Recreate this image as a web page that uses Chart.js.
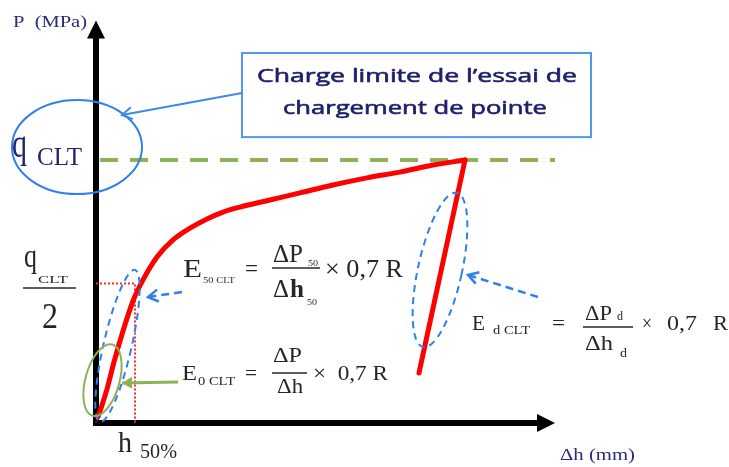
<!DOCTYPE html>
<html>
<head>
<meta charset="utf-8">
<script src="https://cdn.jsdelivr.net/npm/chart.js@4.4.1/dist/chart.umd.min.js"></script>
<style>
html, body { margin: 0; padding: 0; background: #fff; }
#wrap { width: 729px; height: 467px; }
</style>
</head>
<body>
<div id="wrap"><canvas id="chart" width="729" height="467"></canvas></div>
<script>
// Load test curve P = f(dh) (dh in mm, P in MPa)
const loadH = [0.2, 0.6, 1.1, 1.8, 2.7, 3.7, 4.7, 6.1, 7.7, 9.4, 11.1, 12.7, 14.4, 17.4, 20.4, 23.7, 27.1, 30.4, 33.7, 36.9];
const loadP = [0.23, 0.68, 1.29, 2.32, 3.50, 4.64, 5.44, 6.31, 6.96, 7.41, 7.76, 8.02, 8.21, 8.48, 8.75, 9.05, 9.32, 9.54, 9.81, 10];
const unloadH = [36.9, 32.3];
const unloadP = [10, 1.9];
const qCLT = 10;
const qLineH = [0.4, 45.9];
const halfLevel = 5.3;   // q_CLT / 2 as drawn
const h50 = 3.9;         // h 50%
const secantH = [0, 4.0];
const secantP = [0, 5.0];

// axis extents
const xMin = -9.6, xMax = 63.3, yMin = -1.673, yMax = 16.084;
const xAxisEnd = 45.9, yAxisEnd = 15.3;

const SERIF = '"Liberation Serif", "DejaVu Serif", serif';
const NAVY = '#2b2b78';
const INK = '#262626';
const BLUE = '#2f80ed';
const GREEN = '#8db255';

const toPts = (xs, ys) => xs.map((x, i) => ({x: x, y: ys[i]}));

// annotations (data units)
const ellipses = [
	{x: -1.9, y: 10.49, rx: 65, ry: 47, rot: 0, color: BLUE, dash: []},
	{x: 2.15, y: 2.93, rx: 14, ry: 78, rot: 0.226, color: BLUE, dash: [7, 5]},
	{x: 0.65, y: 1.63, rx: 17, ry: 37, rot: 0.27, color: GREEN, dash: []},
	{x: 34.4, y: 5.82, rx: 22, ry: 79, rot: 0.216, color: BLUE, dash: [7, 5]}
];
const arrows = [
	{from: [14.6, 12.55], to: [2.6, 11.71], color: '#3f88ee', width: 2, dash: [], head: 'open'},
	{from: [8.6, 4.98], to: [5.2, 4.79], color: BLUE, width: 2.5, dash: [8, 5], head: 'open'},
	{from: [44.2, 4.79], to: [37.2, 5.63], color: BLUE, width: 2.5, dash: [8, 5], head: 'open'},
	{from: [8.2, 1.56], to: [2.6, 1.52], color: GREEN, width: 3, dash: [], head: 'fill'}
];
const box = {x1: 14.6, y1: 14.07, x2: 49.5, y2: 10.87};
const bars = [
	{x1: -7.3, x2: -2.0, y: 5.13, color: INK},
	{x1: 17.6, x2: 22.4, y: 5.89, color: INK},
	{x1: 17.6, x2: 21.1, y: 1.90, color: INK},
	{x1: 48.7, x2: 53.7, y: 3.65, color: INK}
];
const BOXFONT = '"Open Sans", "DejaVu Sans", sans-serif';
const labels = [
	{t: 'P  (MPa)', x: -8.3, y: 15.06, size: 16, w: 74, color: NAVY},
	{t: 'q', x: -8.4, y: 10.11, size: 42, w: 15, color: '#23236e'},
	{t: 'CLT', x: -5.9, y: 9.81, size: 26, w: 45, color: '#23236e'},
	{t: 'q', x: -7.2, y: 5.93, size: 34, w: 13, color: INK},
	{t: 'CLT', x: -5.8, y: 5.32, size: 11, w: 30, color: INK},
	{t: '2', x: -5.4, y: 3.61, size: 36, w: 16, color: INK},
	{t: 'h', x: 2.2, y: -1.10, size: 30, w: 14, color: INK},
	{t: '50%', x: 4.4, y: -1.33, size: 20, w: 37, color: INK},
	// E50
	{t: 'E', x: 8.7, y: 5.55, size: 25, w: 19, color: INK},
	{t: '50 CLT', x: 10.7, y: 5.32, size: 9, w: 32, color: INK},
	{t: '=', x: 14.9, y: 5.55, size: 25, w: 13, color: INK},
	{t: '\u0394P', x: 17.7, y: 6.12, size: 25, w: 30, color: INK},
	{t: '50', x: 21.2, y: 5.97, size: 8, w: 10, color: INK},
	{t: '\u0394', x: 17.7, y: 4.79, size: 25, w: 16, color: INK},
	{t: 'h', x: 19.4, y: 4.79, size: 25, w: 14, color: INK, bold: true},
	{t: '50', x: 21.1, y: 4.49, size: 8, w: 10, color: INK},
	{t: '\u00d7 0,7 R', x: 22.9, y: 5.55, size: 25, w: 78, color: INK},
	// E0
	{t: 'E', x: 8.6, y: 1.63, size: 21, w: 15, color: INK},
	{t: '0 CLT', x: 10.2, y: 1.44, size: 13, w: 37, color: INK},
	{t: '=', x: 14.9, y: 1.63, size: 21, w: 12, color: INK},
	{t: '\u0394P', x: 17.7, y: 2.32, size: 21, w: 29, color: INK},
	{t: '\u0394h', x: 18.1, y: 1.14, size: 21, w: 26, color: INK},
	{t: '\u00d7  0,7 R', x: 21.7, y: 1.63, size: 21, w: 75, color: INK},
	// Ed
	{t: 'E', x: 37.6, y: 3.54, size: 21, w: 13, color: INK},
	{t: 'd CLT', x: 39.7, y: 3.38, size: 13, w: 37, color: INK},
	{t: '=', x: 45.6, y: 3.54, size: 21, w: 13, color: INK},
	{t: '\u0394P', x: 48.9, y: 3.92, size: 21, w: 27, color: INK},
	{t: 'd', x: 52.1, y: 3.92, size: 12, w: 6, color: INK},
	{t: '\u0394h', x: 48.9, y: 2.78, size: 21, w: 28, color: INK},
	{t: 'd', x: 52.4, y: 2.51, size: 12, w: 7, color: INK},
	{t: '\u00d7', x: 54.6, y: 3.54, size: 21, w: 10, color: INK},
	{t: '0,7', x: 57.1, y: 3.54, size: 21, w: 30, color: INK},
	{t: 'R', x: 61.7, y: 3.54, size: 21, w: 15, color: INK},
	{t: '\u0394h (mm)', x: 46.4, y: -1.41, size: 17, w: 75, color: NAVY},
	// callout box
	{t: 'Charge limite de l\u2019essai de', x: 16.1, y: 12.97, size: 19, w: 320, color: '#1e1e6a', font: BOXFONT, stroke: 0.6},
	{t: 'chargement de pointe', x: 18.7, y: 11.75, size: 19, w: 264, color: '#1e1e6a', font: BOXFONT, stroke: 0.6}
];

function drawArrowHead(ctx, x1, y1, x2, y2, len, half, fill) {
	const a = Math.atan2(y2 - y1, x2 - x1);
	const bx = x2 - len * Math.cos(a), by = y2 - len * Math.sin(a);
	const nx = -Math.sin(a) * half, ny = Math.cos(a) * half;
	ctx.setLineDash([]);
	ctx.beginPath();
	ctx.moveTo(bx + nx, by + ny);
	ctx.lineTo(x2, y2);
	ctx.lineTo(bx - nx, by - ny);
	if (fill) {
		ctx.closePath();
		ctx.fill();
	} else {
		ctx.stroke();
	}
}

const sketch = {
	id: 'sketch',
	beforeDatasetsDraw(chart) {
		const ctx = chart.ctx, xs = chart.scales.x, ys = chart.scales.y;
		const x0 = xs.getPixelForValue(0), y0 = ys.getPixelForValue(0);
		const xe = xs.getPixelForValue(xAxisEnd), ye = ys.getPixelForValue(yAxisEnd);
		ctx.save();
		ctx.strokeStyle = '#000';
		ctx.fillStyle = '#000';
		ctx.lineWidth = 6;
		ctx.beginPath();
		ctx.moveTo(x0, y0 + 3);
		ctx.lineTo(x0, ye + 16);
		ctx.moveTo(x0 - 3, y0);
		ctx.lineTo(xe - 16, y0);
		ctx.stroke();
		drawArrowHead(ctx, x0, y0, x0, ye, 18, 9, true);
		drawArrowHead(ctx, x0, y0, xe, y0, 18, 9, true);
		ctx.restore();
	},
	afterDatasetsDraw(chart) {
		const ctx = chart.ctx, xs = chart.scales.x, ys = chart.scales.y;
		const px = (v) => xs.getPixelForValue(v), py = (v) => ys.getPixelForValue(v);
		ctx.save();

		// callout box
		ctx.fillStyle = '#fff';
		ctx.strokeStyle = '#4f97ef';
		ctx.lineWidth = 2;
		ctx.fillRect(px(box.x1), py(box.y1), px(box.x2) - px(box.x1), py(box.y2) - py(box.y1));
		ctx.strokeRect(px(box.x1), py(box.y1), px(box.x2) - px(box.x1), py(box.y2) - py(box.y1));

		ellipses.forEach((e) => {
			ctx.strokeStyle = e.color;
			ctx.lineWidth = 2;
			ctx.setLineDash(e.dash);
			ctx.beginPath();
			ctx.ellipse(px(e.x), py(e.y), e.rx, e.ry, e.rot, 0, Math.PI * 2);
			ctx.stroke();
		});

		arrows.forEach((a) => {
			const x1 = px(a.from[0]), y1 = py(a.from[1]), x2 = px(a.to[0]), y2 = py(a.to[1]);
			ctx.strokeStyle = a.color;
			ctx.fillStyle = a.color;
			ctx.lineWidth = a.width;
			ctx.setLineDash(a.dash);
			ctx.beginPath();
			ctx.moveTo(x1, y1);
			ctx.lineTo(x2, y2);
			ctx.stroke();
			drawArrowHead(ctx, x1, y1, x2, y2, 10, 6, a.head === 'fill');
		});

		ctx.setLineDash([]);
		bars.forEach((b) => {
			ctx.strokeStyle = b.color;
			ctx.lineWidth = 1.5;
			ctx.beginPath();
			ctx.moveTo(px(b.x1), py(b.y));
			ctx.lineTo(px(b.x2), py(b.y));
			ctx.stroke();
		});

		ctx.textAlign = 'left';
		ctx.textBaseline = 'alphabetic';
		labels.forEach((l) => {
			ctx.save();
			ctx.font = (l.bold ? 'bold ' : '') + l.size + 'px ' + (l.font || SERIF);
			ctx.fillStyle = l.color;
			const m = ctx.measureText(l.t).width;
			ctx.translate(px(l.x), py(l.y));
			if (l.w) ctx.scale(l.w / m, 1);
			ctx.fillText(l.t, 0, 0);
			if (l.stroke) {
				ctx.strokeStyle = l.color;
				ctx.lineWidth = l.stroke;
				ctx.strokeText(l.t, 0, 0);
			}
			ctx.restore();
		});
		ctx.restore();
	}
};

new Chart(document.getElementById('chart'), {
	type: 'scatter',
	data: {
		datasets: [
			{
				data: toPts(loadH, loadP),
				showLine: true,
				borderColor: '#ff0000',
				borderWidth: 5,
				borderCapStyle: 'round',
				borderJoinStyle: 'round',
				cubicInterpolationMode: 'monotone',
				pointRadius: 0
			},
			{
				data: toPts(unloadH, unloadP),
				showLine: true,
				borderColor: '#ff0000',
				borderWidth: 5,
				borderCapStyle: 'round',
				pointRadius: 0
			},
			{
				data: toPts(secantH, secantP),
				showLine: true,
				borderColor: '#2a2a7a',
				borderWidth: 2,
				borderDash: [2, 2],
				pointRadius: 0
			},
			{
				data: [{x: 0, y: halfLevel}, {x: h50, y: halfLevel}, {x: h50, y: 0}],
				showLine: true,
				borderColor: '#ff2a2a',
				borderWidth: 2,
				borderDash: [2, 2],
				pointRadius: 0
			},
			{
				data: qLineH.map((x) => ({x: x, y: qCLT})),
				showLine: true,
				borderColor: GREEN,
				borderWidth: 4,
				borderDash: [18, 12],
				pointRadius: 0
			}
		]
	},
	options: {
		responsive: false,
		animation: false,
		events: [],
		layout: {padding: 0},
		plugins: {
			legend: {display: false},
			tooltip: {enabled: false}
		},
		scales: {
			x: {type: 'linear', display: false, min: xMin, max: xMax},
			y: {type: 'linear', display: false, min: yMin, max: yMax}
		}
	},
	plugins: [sketch]
});
</script>
</body>
</html>
